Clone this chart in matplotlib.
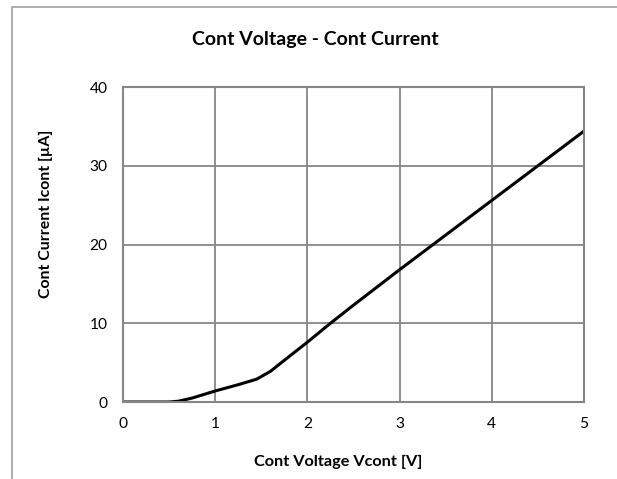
import matplotlib.pyplot as plt
from matplotlib.patches import Rectangle

# Daten
voltage_V = [0, 0.25, 0.5, 0.6, 0.75, 1.0, 1.25, 1.45, 1.6, 1.75, 2.0, 2.25, 2.5, 3.0, 3.5, 4.0, 4.5, 5.0]
current_uA = [0, 0, 0, 0.1, 0.5, 1.4, 2.2, 2.9, 3.9, 5.3, 7.6, 10.0, 12.3, 16.8, 21.2, 25.6, 30.0, 34.4]
x_ticks = [0, 1, 2, 3, 4, 5]
y_ticks = [0, 10, 20, 30, 40]

plt.rcParams['font.family'] = ['Lato', 'DejaVu Sans']

fig = plt.figure(figsize=(6.17, 4.79), dpi=100)
ax = fig.add_axes([123/617, 77/479, 461/617, 315/479])

ax.plot(voltage_V, current_uA, color='black', linewidth=2.2, solid_joinstyle='round')

ax.set_xlim(0, 5)
ax.set_ylim(0, 40)
ax.set_xticks(x_ticks)
ax.set_yticks(y_ticks)
ax.tick_params(length=0, labelsize=11.2, pad=11)
ax.grid(True, color='#868686', linewidth=1.3)
ax.set_axisbelow(True)
for s in ax.spines.values():
    s.set_color('#868686')
    s.set_linewidth(1.5)

fig.text(315/617, 1 - 40/479, 'Cont Voltage - Cont Current', ha='center', va='center',
         fontsize=14, fontweight='bold')
fig.text(338/617, 1 - 462/479, 'Cont Voltage Vcont [V]', ha='center', va='center',
         fontsize=11.7, fontweight='bold')
fig.text(46/617, 1 - 214/479, 'Cont Current Icont [µA]', ha='center', va='center',
         fontsize=11.4, fontweight='bold', rotation=90)

# Rahmen um das Diagramm (rechts und unten abgeschnitten)
fig.patches.append(Rectangle((12/617, -0.05), 1.0, 1.05 - 7/479, transform=fig.transFigure,
                             fill=False, edgecolor='#a0a0a0', linewidth=1.2))

plt.savefig('out.png', dpi=100)
